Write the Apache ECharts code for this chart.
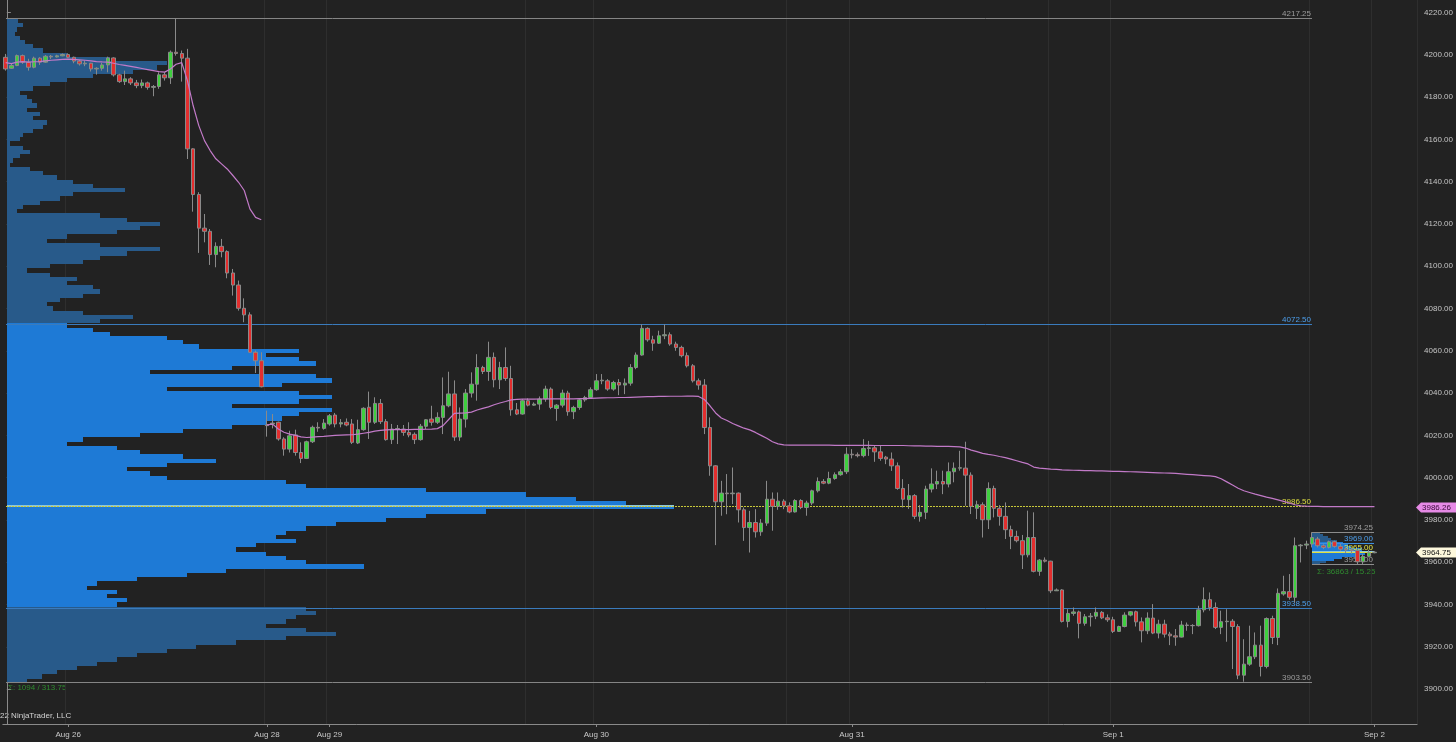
<!DOCTYPE html>
<html><head><meta charset="utf-8">
<script src="https://cdn.jsdelivr.net/npm/echarts@6/dist/echarts.min.js"></script>
<style>html,body{margin:0;padding:0;background:#222222;}#c{width:1456px;height:742px;}</style>
</head><body><div id="c"></div>
<script>
// ---------- DATA ----------
// 30-minute bars, [open, high, low, close]
const ohlc = [
[4198.8,4200.4,4192.5,4193.3],[4193.6,4195.7,4193.3,4194.9],[4194.9,4200.1,4194.6,4199.6],[4199.6,4200.1,4195.7,4196.5],
[4196.5,4198.1,4192.5,4194.1],[4194.1,4199.1,4193.6,4198.4],[4198.4,4198.8,4195.2,4196.5],[4196.5,4199.9,4196.2,4199.3],
[4199.3,4199.9,4198.0,4199.0],[4199.0,4200.0,4198.7,4199.5],[4199.5,4200.6,4199.3,4200.1],[4200.1,4200.7,4198.4,4198.8],
[4198.8,4199.1,4196.0,4197.0],[4197.0,4197.6,4194.9,4195.7],[4195.7,4197.3,4194.6,4196.0],[4196.0,4196.2,4192.1,4193.3],
[4193.3,4194.1,4190.6,4193.6],[4193.6,4196.2,4192.5,4195.2],[4195.2,4199.1,4191.7,4198.5],[4198.5,4198.8,4189.7,4190.5],
[4190.5,4191.0,4186.7,4187.3],[4187.3,4192.5,4185.7,4188.6],[4188.6,4189.4,4185.7,4186.7],[4186.7,4188.1,4184.2,4185.4],
[4185.4,4188.3,4184.2,4186.7],[4186.7,4187.3,4183.5,4184.6],[4184.6,4185.7,4180.4,4185.0],[4185.0,4191.7,4183.9,4190.5],
[4190.5,4191.7,4187.8,4189.1],[4189.1,4202.0,4186.2,4201.2],[4201.2,4217.25,4199.6,4200.6],[4200.6,4202.0,4187.3,4198.4],
[4198.4,4202.8,4150.7,4155.5],[4155.5,4155.8,4125.8,4133.9],[4133.9,4135.0,4106.3,4118.0],[4118.0,4124.7,4111.3,4116.5],
[4116.5,4117.6,4100.6,4105.5],[4105.5,4111.3,4099.5,4109.4],[4109.4,4112.9,4104.2,4106.9],[4106.9,4107.5,4094.3,4096.8],
[4096.8,4098.7,4086.1,4091.1],[4091.1,4093.2,4079.0,4080.1],[4080.1,4084.8,4073.5,4077.0],[4077.0,4078.2,4059.0,4059.3],
[4059.3,4060.1,4049.5,4055.3],[4055.3,4059.3,4042.7,4043.0],
[4024.9,4031.7,4019.4,4024.6],[4025.4,4030.1,4023.3,4025.8],[4026.2,4026.5,4017.5,4018.3],[4018.3,4019.1,4010.4,4013.5],
[4013.5,4022.2,4011.9,4019.8],[4020.2,4022.7,4010.4,4011.9],[4011.9,4016.7,4006.9,4009.1],[4009.1,4017.5,4008.8,4017.0],
[4017.0,4024.6,4016.4,4023.8],[4023.8,4026.2,4021.7,4023.5],[4023.3,4027.7,4022.7,4025.8],[4025.4,4030.1,4024.6,4029.3],
[4029.6,4030.6,4023.8,4025.4],[4025.4,4027.7,4023.8,4026.0],[4026.2,4028.0,4024.3,4024.9],[4025.4,4027.7,4015.9,4016.7],
[4016.4,4027.4,4015.9,4022.7],[4022.7,4033.3,4022.2,4032.8],[4033.3,4040.7,4018.3,4026.2],[4026.2,4038.0,4025.4,4035.1],
[4035.1,4037.2,4025.4,4026.5],[4026.5,4027.7,4017.5,4018.0],[4018.0,4025.4,4015.9,4023.0],[4023.0,4024.9,4015.9,4023.2],
[4023.0,4024.9,4019.8,4021.4],[4021.4,4026.2,4019.1,4020.2],[4020.5,4021.4,4015.9,4018.0],[4018.0,4025.4,4017.5,4024.3],
[4024.3,4027.7,4023.0,4027.4],[4027.7,4034.0,4024.6,4026.2],[4026.2,4030.9,4025.4,4028.5],[4028.5,4047.4,4020.6,4034.0],
[4034.0,4050.1,4033.3,4039.6],[4039.6,4046.0,4017.4,4019.2],[4019.2,4033.2,4017.4,4027.7],[4027.7,4041.9,4023.7,4040.0],
[4040.0,4049.8,4037.9,4044.2],[4044.2,4058.4,4036.4,4052.1],[4052.1,4052.9,4049.0,4050.2],[4050.2,4064.3,4045.8,4056.9],
[4056.9,4059.2,4042.7,4046.3],[4046.3,4054.8,4041.9,4052.1],[4052.1,4061.6,4045.8,4046.9],[4046.9,4052.9,4029.3,4032.1],
[4032.1,4035.3,4029.6,4030.1],[4030.1,4037.2,4029.8,4036.4],[4036.4,4037.5,4033.7,4034.3],[4034.3,4035.6,4034.0,4034.8],
[4034.8,4038.4,4032.1,4037.2],[4037.2,4043.5,4035.9,4041.9],[4041.9,4042.7,4032.4,4033.2],[4032.7,4034.8,4026.9,4034.3],
[4034.3,4041.6,4033.2,4040.0],[4040.0,4041.1,4029.3,4031.2],[4031.2,4034.0,4027.7,4033.2],[4033.2,4037.5,4032.1,4036.8],
[4036.8,4038.7,4035.9,4037.9],[4037.9,4042.7,4037.2,4041.6],[4041.6,4049.0,4041.1,4045.8],[4045.8,4049.0,4044.2,4046.1],
[4045.8,4046.6,4041.1,4041.9],[4041.9,4045.8,4041.1,4045.0],[4045.0,4046.6,4039.0,4043.8],[4043.8,4046.9,4039.5,4044.7],
[4044.7,4053.7,4043.5,4052.1],[4052.1,4059.2,4051.3,4058.0],[4058.0,4072.5,4057.7,4070.6],[4070.6,4071.1,4064.3,4065.2],
[4065.2,4067.1,4060.0,4063.6],[4063.6,4069.5,4063.2,4067.1],[4067.1,4072.5,4065.5,4067.6],[4067.6,4068.7,4062.4,4063.2],
[4063.2,4064.3,4060.0,4061.6],[4061.6,4062.4,4056.9,4057.7],[4057.7,4059.2,4052.1,4052.9],[4052.9,4053.7,4045.0,4045.8],
[4045.8,4046.9,4041.6,4043.8],[4043.8,4046.6,4020.6,4023.7],[4023.7,4028.5,4000.9,4005.6],[4005.6,4005.9,3968.1,3988.6],
[3988.6,3998.5,3982.0,3992.7],[3992.7,4001.7,3982.7,3992.4],[3992.4,4004.8,3987.5,3992.7],[3992.7,3993.0,3978.8,3984.8],
[3984.8,3985.9,3970.1,3976.4],[3976.4,3984.3,3964.6,3978.8],[3978.8,3985.1,3971.7,3974.4],[3974.4,3980.4,3972.5,3978.5],
[3978.5,3998.5,3977.2,3989.8],[3989.8,3993.0,3974.9,3986.4],[3986.4,3993.0,3984.8,3988.9],[3988.9,3989.8,3985.1,3986.7],
[3986.7,3988.3,3983.2,3983.8],[3983.8,3989.8,3983.5,3989.2],[3989.2,3989.8,3985.1,3985.9],[3985.9,3989.1,3982.0,3988.0],
[3988.0,3994.3,3987.0,3993.8],[3993.8,4000.1,3993.0,3998.2],[3998.2,3999.3,3996.9,3997.4],[3997.4,4002.8,3996.9,3999.6],
[3999.6,4002.5,3999.0,4001.4],[4001.4,4004.0,4000.9,4002.8],[4002.8,4014.3,4001.7,4011.1],[4011.1,4013.5,4009.1,4010.8],
[4010.8,4011.9,4009.6,4010.4],[4010.4,4018.2,4009.6,4013.8],[4013.8,4017.4,4010.3,4014.1],[4014.1,4015.1,4007.5,4012.2],
[4012.2,4015.4,4008.0,4009.1],[4009.7,4010.3,4006.4,4008.8],[4008.8,4011.9,4003.2,4005.6],[4005.6,4007.2,3994.3,3994.9],
[3994.9,3999.3,3985.9,3989.8],[3989.6,3997.0,3985.2,3991.5],[3991.5,3992.2,3980.4,3981.7],[3981.7,3987.0,3979.2,3983.6],
[3983.6,3996.2,3980.4,3994.6],[3994.6,4004.4,3993.0,3997.0],[3997.0,4003.3,3994.6,3998.2],[3998.2,4003.3,3992.2,3997.0],
[3997.0,4007.2,3995.4,4002.8],[4002.8,4007.2,3997.8,4004.5],[4004.5,4012.7,4003.3,4004.7],[4004.5,4017.0,3986.7,4001.2],
[4001.2,4002.5,3982.8,3986.4],[3985.5,3989.1,3980.4,3987.2],[3987.2,3988.3,3971.7,3980.1],[3980.1,3997.8,3975.7,3994.9],
[3994.9,3996.2,3981.2,3985.5],[3985.5,3987.0,3977.3,3981.7],[3981.7,3988.3,3971.0,3975.4],[3975.4,3977.3,3966.2,3972.2],
[3972.2,3974.9,3969.4,3970.2],[3970.2,3972.9,3956.8,3963.5],[3963.5,3984.4,3962.3,3971.7],[3971.7,3983.6,3955.2,3955.7],
[3955.7,3961.5,3953.6,3961.0],[3961.0,3962.3,3959.9,3960.5],[3960.5,3960.7,3945.4,3946.5],[3946.5,3947.6,3946.4,3946.9],
[3946.9,3947.3,3931.5,3932.0],[3932.0,3937.8,3929.2,3935.8],[3935.8,3938.6,3934.7,3936.5],[3936.5,3937.1,3924.0,3931.1],
[3931.1,3935.5,3930.0,3934.2],[3934.2,3936.0,3929.6,3934.5],[3934.5,3938.6,3933.1,3936.3],[3936.3,3936.9,3933.1,3933.7],
[3933.7,3935.3,3931.8,3932.8],[3932.8,3934.2,3926.5,3927.3],[3927.3,3930.0,3927.0,3929.6],[3929.6,3936.3,3929.2,3935.0],
[3935.0,3936.9,3934.4,3936.6],[3936.6,3937.1,3929.6,3931.8],[3931.8,3933.9,3922.1,3927.6],[3927.6,3936.3,3926.0,3933.6],
[3933.6,3940.2,3926.0,3926.5],[3926.5,3932.8,3924.0,3930.7],[3930.7,3932.8,3924.4,3926.0],[3926.0,3927.1,3920.8,3925.2],
[3925.2,3928.4,3920.5,3924.6],[3924.6,3932.3,3924.4,3930.3],[3930.3,3931.5,3927.6,3930.1],[3930.1,3930.7,3926.0,3930.0],
[3930.0,3939.4,3929.6,3937.5],[3937.5,3948.1,3936.3,3942.3],[3942.3,3945.7,3937.1,3938.6],[3938.6,3941.0,3928.4,3929.2],
[3929.2,3937.1,3926.0,3931.9],[3931.9,3937.8,3922.4,3932.1],[3932.1,3933.1,3909.5,3929.6],[3929.6,3930.7,3904.7,3906.6],
[3906.6,3923.6,3903.5,3911.8],[3911.8,3930.0,3911.0,3915.3],[3915.3,3926.8,3914.2,3920.8],[3920.8,3930.0,3906.0,3910.7],
[3910.7,3933.9,3909.8,3933.4],[3933.4,3934.7,3921.3,3924.4],[3924.4,3947.6,3920.8,3945.3],[3945.0,3953.6,3944.2,3946.1],
[3946.1,3954.4,3942.3,3943.4],[3943.4,3971.7,3941.0,3967.8],[3967.8,3968.6,3959.9,3968.1],[3968.1,3970.2,3966.2,3968.6],
[3968.6,3974.25,3967.0,3971.7],[3971.0,3972.0,3967.0,3967.8],[3967.8,3968.5,3966.2,3967.0],[3967.0,3970.2,3966.5,3969.7],
[3969.7,3970.2,3966.9,3967.5],[3967.5,3968.6,3965.4,3966.2],[3966.2,3967.0,3964.3,3965.8],[3965.8,3966.5,3963.9,3965.6],
[3965.6,3966.0,3959.0,3960.2],[3960.2,3963.9,3959.1,3962.8],[3962.8,3965.9,3962.3,3964.5],[3964.5,3965.25,3964.25,3964.75]
];

// VWAP of the previous week (bars 0-45) and of the current week (bars 46-241)
const vwapPrevWeek = [4196.3,4195.8,4196.5,4196.8,4196.5,4196.7,4196.8,4197.1,4197.4,4197.6,4197.8,4197.9,4197.8,4197.6,4197.4,4197.1,
4196.8,4196.6,4196.5,4196.0,4195.4,4195.0,4194.5,4194.0,4193.5,4193.0,4192.5,4192.0,4191.8,4193.3,4195.5,4196.3,
4187.8,4176.0,4166.5,4159.4,4154.7,4150.8,4148.4,4146.0,4142.9,4139.7,4135.8,4127.1,4123.1,4122.0];
const vwapWeek = [4025.0,4025.3,4023.0,4021.5,4020.6,4020.0,4019.3,4019.0,4019.2,4019.4,4019.5,4019.8,4020.0,4020.1,4020.2,4020.3,4020.6,
4021.0,4021.4,4022.0,4022.4,4022.6,4022.7,4022.7,4022.7,4022.7,4022.8,4022.8,4022.9,4023.0,4023.2,4024.6,4027.5,4030.4,
4030.5,4030.6,4031.0,4032.0,4032.8,4033.5,4034.5,4035.3,4036.0,4036.8,
4037.0,4037.1,4037.1,4037.1,4037.2,4037.2,4037.3,4037.3,4037.3,4037.3,
4037.3,4037.4,4037.4,4037.5,4037.6,4037.7,4037.8,4037.8,4037.9,4037.9,
4038.0,4038.1,4038.2,4038.3,4038.3,4038.4,4038.4,4038.5,4038.5,4038.5,
4038.6,4038.6,4038.4,4037.0,4034.0,4030.6,4028.2,4027.0,4025.6,4024.5,
4023.4,4022.6,4021.4,4020.0,4018.6,4017.0,4016.0,4015.5,
4015.4,4015.4,4015.4,4015.4,4015.4,4015.4,4015.4,4015.4,4015.3,4015.3,4015.3,4015.3,4015.3,4015.3,4015.3,
4015.2,4015.2,4015.2,4015.2,4015.2,4015.2,
4015.1,4015.0,4015.0,4014.9,4014.9,4014.8,4014.8,4014.8,4014.7,4014.6,
4014.0,4013.0,4012.3,4011.5,4011.0,4010.6,4010.0,4009.5,4008.8,4008.0,
4007.2,4006.5,4005.0,4004.5,4004.3,4004.0,4003.9,4003.7,4003.6,4003.5,
4003.4,4003.3,4003.3,4003.2,4003.2,4003.1,4003.0,4003.0,4002.9,4002.8,
4002.7,4002.6,4002.5,4002.4,4002.3,4002.2,4002.1,4002.0,4001.8,4001.6,
4001.4,4001.2,4001.0,4000.8,4000.5,3999.5,3998.0,3996.5,3995.0,3993.8,
3993.0,3992.2,3991.5,3990.8,3990.2,3989.5,3988.8,3988.0,3987.2,3986.7,
3986.5,3986.4,3986.4,3986.3,3986.3,3986.3,3986.3,3986.3,3986.3,3986.3,
3986.3,3986.3,3986.26];
const weekStartBar = 46;

// composite volume profile: [price bin centre, volume (relative units)]
const profile = [
[4216,11],[4214,16],[4212,10],[4210,8],[4208,13],[4206,18],[4204,26],[4202,36],[4200,60],[4198,103],[4196,160],[4194,150],
[4192,126],[4190,86],[4188,60],[4186,43],[4184,26],[4182,13],[4180,20],[4178,25],[4176,30],[4174,20],[4172,33],[4170,26],
[4168,40],[4166,36],[4164,26],[4162,16],[4160,13],[4158,3],[4156,16],[4154,23],[4152,13],[4150,6],[4148,3],[4146,23],
[4144,36],[4142,50],[4140,66],[4138,86],[4136,118],[4134,66],[4132,53],[4130,33],[4128,16],[4126,10],[4124,93],[4122,120],
[4120,153],[4118,133],[4116,110],[4114,60],[4112,40],[4110,93],[4108,153],[4106,120],[4104,93],[4102,76],[4100,43],[4098,20],
[4096,43],[4094,70],[4092,60],[4090,86],[4088,93],[4086,76],[4084,53],[4082,40],[4080,46],[4078,76],[4076,126],[4074,93],
[4072,60],[4070,86],[4068,103],[4066,160],[4064,176],[4062,193],[4060,293],[4058,260],[4056,293],[4054,310],[4052,226],[4050,143],
[4048,310],[4046,326],[4044,276],[4042,160],[4040,293],[4038,326],[4036,293],[4034,226],[4032,326],[4030,293],[4028,276],[4026,260],
[4024,226],[4022,176],[4020,133],[4018,76],[4016,60],[4014,110],[4012,133],[4010,176],[4008,210],[4006,160],[4004,120],[4002,143],
[4000,160],[3998,280],[3996,300],[3994,420],[3992,520],[3990,570],[3988,620],[3986,668],[3984,480],[3982,420],[3980,380],[3978,330],
[3976,300],[3974,280],[3972,270],[3970,290],[3968,250],[3966,230],[3964,260],[3962,280],[3960,300],[3958,358],[3956,220],[3954,180],
[3952,130],[3950,90],[3948,80],[3946,110],[3944,100],[3942,120],[3940,110],[3938,300],[3936,310],[3934,290],[3932,280],[3930,260],
[3928,300],[3926,330],[3924,280],[3922,230],[3920,190],[3918,160],[3916,130],[3914,110],[3912,90],[3910,70],[3908,50],[3906,35],[3904,20]
];
const profileBin = 2;
const compositeLevels = {high: 4217.25, vah: 4072.5, poc: 3986.5, val: 3938.5, low: 3903.5};

// developing profile of the last session (bars 230-241): [price, % of POC volume]
const sessionProfile = [[3974,12],[3973,18],[3972,25],[3971,30],[3970,40],[3969,50],[3968,58],[3967,62],[3966,80],[3965,100],
[3964,85],[3963,70],[3962,48],[3961,35],[3960,22],[3959,12]];
const sessionLevels = {high: 3974.25, vah: 3969.0, poc: 3965.0, val: 3961.0, low: 3959.0};
const sessionFirstBar = 230, sessionLastBar = 241;

const lastPrice = 3964.75, lastVwap = 3986.26;
const dayTickBars = [11, 46, 57, 104, 149, 195, 241];
const dayTickNames = ['Aug 26', 'Aug 28', 'Aug 29', 'Aug 30', 'Aug 31', 'Sep 1', 'Sep 2'];
const sessionBreakBars = [46, 92, 138, 184, 230];   // first bar of each session
const yTicks = [3900,3920,3940,3960,3980,4000,4020,4040,4060,4080,4100,4120,4140,4160,4180,4200,4220];
const slotCount = 249;

// ---------- CHART ----------
const FONT = "'Liberation Sans',Arial,sans-serif";
const categories = Array.from({length: slotCount}, (_, i) => String(i));
const dayName = {}; dayTickBars.forEach((b, i) => dayName[b] = dayTickNames[i]);
const isDay = i => dayName[i] !== undefined;
const gridSet = new Set(dayTickBars.concat(sessionBreakBars));

const chart = echarts.init(document.getElementById('c'));

const VA_BLUE = '#1e7ad6', OUT_BLUE = '#285a8a', POC_ROW = '#8ec7d6';
function inVA(p, lv) { return p >= lv.val && p <= lv.vah; }
const lineEnd = sessionBreakBars[sessionBreakBars.length - 1] - 0.5;

const levelStyle = {
  high: {stroke: '#858585', text: '#9c9c9c'},
  vah:  {stroke: '#3a7bbd', text: '#4d9fec'},
  poc:  {stroke: '#c8c83a', text: '#dede40', dash: [2, 1]},
  val:  {stroke: '#3a7bbd', text: '#4d9fec'},
  low:  {stroke: '#858585', text: '#9c9c9c'}
};
const sessionStyle = {
  high: {stroke: '#8c8c8c', text: '#9c9c9c'},
  vah:  {stroke: '#3d8fe0', text: '#4d9fec'},
  poc:  {stroke: '#e0e040', text: '#e6e640'},
  low:  {stroke: '#8c8c8c', text: '#9c9c9c'}
};
const levelItems = [];
['high', 'vah', 'poc', 'val', 'low'].forEach(k => levelItems.push({v: compositeLevels[k], from: 0, to: lineEnd, st: levelStyle[k]}));
['high', 'vah', 'poc', 'low'].forEach(k => levelItems.push({v: sessionLevels[k], from: sessionFirstBar, to: sessionLastBar, st: sessionStyle[k]}));

const tagItems = [
  {v: lastVwap, fill: '#e68ae6', text: '#3a0a3a'},
  {v: lastPrice, fill: '#fdf8dc', text: '#111111'}
];

function rowRect(x0, y0, x1, y1, fill) {
  const ya = Math.round(y0), yb = Math.round(y1), xa = Math.round(x0);
  return {type: 'rect', shape: {x: xa, y: ya, width: Math.max(0, Math.round(x1) - xa), height: Math.max(1, yb - ya)}, style: {fill: fill}};
}
const hiddenAxis = {show: false, axisLine: {show: false}, axisTick: {show: false}, axisLabel: {show: false}, splitLine: {show: false}, axisPointer: {show: false}};

const option = {
  backgroundColor: '#222222',
  animation: false,
  grid: {left: 2.85, right: 36.35, top: 0, bottom: 18},
  xAxis: [
    {type: 'category', data: categories, boundaryGap: true,
     axisLine: {show: true, lineStyle: {color: '#8a8a8a'}},
     axisTick: {show: true, alignWithLabel: true, length: 3, interval: i => isDay(i), lineStyle: {color: '#8a8a8a'}},
     axisLabel: {show: true, interval: i => isDay(i), formatter: (v, i) => dayName[i] || '',
                 color: '#c8c8c8', fontSize: 8, fontFamily: FONT, margin: 7},
     splitLine: {show: true, interval: i => gridSet.has(i), lineStyle: {color: '#2e2e2e', width: 1}}},
    Object.assign({type: 'value', min: -4, max: 1412.8}, hiddenAxis)
  ],
  yAxis: [{
    type: 'value', position: 'right', min: 3883.5, max: 4225.9,
    axisLine: {show: true, lineStyle: {color: '#8a8a8a'}},
    axisTick: {show: true, length: 4, customValues: yTicks, lineStyle: {color: '#8a8a8a'}},
    axisLabel: {show: true, customValues: yTicks, formatter: v => v.toFixed(2), color: '#c4c4c4', fontSize: 8, fontFamily: FONT, margin: 7},
    splitLine: {show: false}
  }],
  series: [
    { // composite volume profile
      type: 'custom', xAxisIndex: 1, yAxisIndex: 0, z: 1, silent: true,
      encode: {x: 1, y: 0},
      data: profile,
      renderItem: function (params, api) {
        const p = api.value(0), v = api.value(1);
        const a = api.coord([0, p + profileBin / 2]);
        const b = api.coord([v, p - profileBin / 2]);
        const row = rowRect(a[0], a[1], b[0], b[1], inVA(p, compositeLevels) ? VA_BLUE : OUT_BLUE);
        if (Math.abs(p - compositeLevels.poc) < profileBin / 2) {
          const c = api.coord([0, compositeLevels.poc + 0.5]);
          const d = api.coord([v, compositeLevels.poc - 0.5]);
          return {type: 'group', children: [row, rowRect(c[0], c[1], d[0], d[1], POC_ROW)]};
        }
        return row;
      }
    },
    { // developing session profile
      type: 'custom', xAxisIndex: 0, yAxisIndex: 0, z: 2, silent: true,
      encode: {y: 0},
      data: sessionProfile,
      renderItem: function (params, api) {
        const p = api.value(0), v = api.value(1);
        const a = api.coord([sessionFirstBar, p + 0.5]);
        const e = api.coord([sessionLastBar, p - 0.5]);
        const fill = p === sessionLevels.poc ? POC_ROW : (inVA(p, sessionLevels) ? VA_BLUE : OUT_BLUE);
        return rowRect(a[0], a[1], a[0] + (e[0] - a[0]) * v / 100, e[1], fill);
      }
    },
    { // level lines with their price labels
      type: 'custom', xAxisIndex: 0, yAxisIndex: 0, z: 2, silent: true,
      data: levelItems.map((d, i) => [i, d.v]),
      renderItem: function (params, api) {
        const d = levelItems[api.value(0)];
        const a = api.coord([d.from, d.v]), b = api.coord([d.to, d.v]);
        const y = Math.round(a[1]) + 0.5, x1 = Math.round(a[0]), x2 = Math.round(b[0]);
        return {type: 'group', children: [
          {type: 'line', shape: {x1: x1, y1: y, x2: x2, y2: y}, style: {stroke: d.st.stroke, lineWidth: 1, lineDash: d.st.dash || null}},
          {type: 'text', x: x2 - 1, y: y - 1, style: {text: d.v.toFixed(2), fill: d.st.text, font: '8px ' + FONT,
            align: 'right', verticalAlign: 'bottom', textAlign: 'right', textVerticalAlign: 'bottom'}}
        ]};
      }
    },
    { // price candles
      type: 'candlestick', name: 'ES', z: 3, barWidth: 4,
      data: ohlc.map(b => [b[0], b[3], b[2], b[1]]),
      itemStyle: {color: '#3fcf3f', color0: '#e32e2e', borderColor: '#8a8a8a', borderColor0: '#8a8a8a', borderColorDoji: '#d0d0d0', borderWidth: 1}
    },
    {
      type: 'line', name: 'VWAP prev', z: 4, showSymbol: false, silent: true,
      data: vwapPrevWeek, lineStyle: {color: '#c27ac8', width: 1.2}
    },
    {
      type: 'line', name: 'VWAP', z: 4, showSymbol: false, silent: true,
      data: new Array(weekStartBar).fill('-').concat(vwapWeek), lineStyle: {color: '#c27ac8', width: 1.2}
    },
    { // price tags on the right axis
      type: 'custom', xAxisIndex: 0, yAxisIndex: 0, z: 6, silent: true, clip: false,
      data: tagItems.map((d, i) => [i, d.v]),
      renderItem: function (params, api) {
        const d = tagItems[api.value(0)];
        const yc = Math.round(api.coord([0, d.v])[1]) + 0.5;
        const x0 = Math.round(params.coordSys.x + params.coordSys.width) - 1, x1 = api.getWidth();
        return {type: 'group', children: [
          {type: 'polygon', shape: {points: [[x0, yc], [x0 + 5, yc - 5], [x1, yc - 5], [x1, yc + 5], [x0 + 5, yc + 5]]}, style: {fill: d.fill}},
          {type: 'text', x: x0 + 6, y: yc + 0.5, style: {text: d.v.toFixed(2), fill: d.text, font: '8px ' + FONT,
            align: 'left', verticalAlign: 'middle', textAlign: 'left', textVerticalAlign: 'middle'}}
        ]};
      }
    }
  ],
  graphic: [
    {type: 'text', left: 0, top: 712, silent: true, style: {text: '22 NinjaTrader, LLC', fill: '#d4d4d4', font: '8px ' + FONT}},
    {type: 'text', left: 8, top: 684, silent: true, style: {text: 'Σ: 1094 / 313.75', fill: '#2f8a2f', font: '8px ' + FONT}},
    {type: 'text', left: 1317, top: 568, silent: true, style: {text: 'Σ: 36863 / 15.25', fill: '#2f8a2f', font: '8px ' + FONT}}
  ]
};
chart.setOption(option);
</script></body></html>
